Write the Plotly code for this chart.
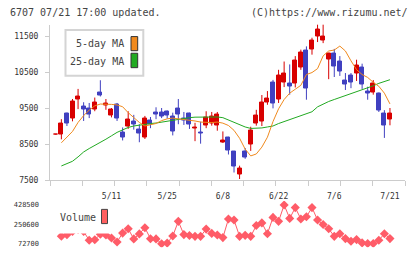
import numpy as np
import plotly.graph_objects as go

W, H = 420, 259

# ---------------- data ----------------
day_idx = list(range(61))
opens = [8780, 8780, 9370, 9230, 9740, 9550, 9500, 9470, 9950, 9590,
         9300, 9610, 8830, 9000, 9130, 8920, 8680, 9160, 9380, 9380,
         9400, 9270, 9490, 9230, 9350, 8930, 8830, 9030, 9090, 9030,
         8560, 8700, 8290, 7670, 8290, 8490, 9090, 9130, 9670, 10220,
         9740, 10220, 10180, 10190, 10640, 11100, 11120, 11480, 11370, 10860,
         11010, 10790, 10280, 10420, 10470, 10630, 9970, 9950, 9900, 9350,
         9200]
highs = [8790, 9200, 9380, 9760, 10040, 9670, 9650, 9800, 10280, 9760,
         9510, 9650, 8970, 9420, 9320, 9060, 9290, 9260, 9530, 9510,
         9440, 9380, 9760, 9400, 9380, 9100, 9130, 9420, 9400, 9400,
         8860, 8710, 8300, 7910, 8400, 8990, 9460, 9870, 9980, 10290,
         10570, 10800, 10720, 10950, 11130, 11220, 11460, 11830, 11830, 11040,
         11150, 10950, 10480, 10480, 10850, 10740, 10100, 10285, 9940, 9450,
         9510]
lows = [8770, 8640, 9010, 9140, 9480, 9150, 9230, 9420, 9830, 9460,
        9250, 9150, 8610, 8930, 8910, 8560, 8650, 8950, 9200, 9230,
        9220, 8750, 9060, 9040, 8930, 8590, 8520, 8950, 9020, 8880,
        8540, 8220, 7720, 7540, 8100, 8320, 9020, 9010, 9600, 9500,
        9650, 10090, 9880, 10080, 10570, 9740, 10990, 11340, 11310, 10310,
        10370, 10400, 10010, 10060, 10260, 10040, 9740, 9880, 9400, 8680,
        9030]
closes = [8780, 9080, 9080, 9700, 9840, 9470, 9330, 9650, 9870, 9630,
          9460, 9220, 8680, 9180, 9040, 8790, 9220, 9060, 9340, 9280,
          9310, 8860, 9330, 9170, 9060, 8970, 8790, 9240, 9270, 9320,
          8610, 8330, 7880, 7840, 8150, 8880, 9290, 9670, 9760, 9630,
          10420, 10470, 10100, 10830, 11050, 10060, 11370, 11690, 11490, 11010,
          10670, 10530, 10170, 10220, 10680, 10150, 9920, 10190, 9440, 9030,
          9350]
ma5 = [None, 8545, 8700, 8860, 9110, 9300, 9450, 9570, 9620, 9625,
       9610, 9595, 9545, 9380, 9250, 9110, 9010, 9040, 9080, 9160,
       9210, 9230, 9215, 9200, 9175, 9150, 9120, 9106, 9106, 9120,
       9090, 9025, 8890, 8670, 8370, 8180, 8235, 8425, 8700, 9134,
       9487, 9746, 9922, 10031, 10140, 10439, 10494, 10602, 10956, 11092,
       11119, 11228, 11092, 10820, 10575, 10439, 10358, 10222, 10113, 9922,
       9623]
ma25 = [None, 7902, 7964, 8032, 8154, 8290, 8386, 8467, 8549, 8644,
        8739, 8834, 8902, 8970, 9011, 9038, 9052, 9079, 9093, 9120,
        9147, 9174, 9202, 9229, 9242, 9256, 9261, 9261, 9261, 9261,
        9242, 9174, 9120, 9052, 8984, 8943, 8943, 8957, 8984, 9011,
        9079, 9134, 9188, 9229, 9283, 9338, 9406, 9542, 9623, 9691,
        9746, 9800, 9854, 9895, 9950, 10004, 10072, 10126, 10194, 10249,
        10295]
volume = [None, 142000, 155600, 185000, 203000, 185000, 104200, 108700, 160100, 152900,
          125000, 88900, 170000, 209600, 116800, 162800, 219500, 118600, 116800, 72700,
          78000, 143000, 278100, 156500, 147500, 140300, 140300, 206900, 167300, 152900,
          128600, 299700, 290700, 140300, 149300, 140300, 239300, 263700, 164600, 314100,
          278100, 428500, 305100, 404200, 299700, 320400, 404200, 290700, 248400, 209600,
          140300, 164600, 119500, 95200, 110500, 79900, 74500, 74500, 104200, 164600,
          119500]
date_pos = [10, 20, 30, 40, 50, 60]
date_labels = ["5/11", "5/25", "6/8", "6/22", "7/6", "7/21"]
price_ticks = [7500, 8500, 9500, 10500, 11500]
vol_ticks = [72700, 250600, 428500]

# ---------------- styling ----------------
RED = "#d80000"
BLUE = "#4040c0"
ORANGE = "#f08a1e"
GREEN = "#22aa22"
VOLC = "#ff5c68"
GRID = "#cccccc"
MONO = "DejaVu Sans Mono"


def px(x):
    return x / W


def py(y):
    return 1 - y / H


XR = [-1.04, 62.7]

fig = go.Figure()

# wicks
for col, cond in ((RED, lambda o, c: c >= o), (BLUE, lambda o, c: c < o)):
    xs, ys = [], []
    for i, o, h, l, c in zip(day_idx, opens, highs, lows, closes):
        if cond(o, c):
            xs += [i, i, None]
            ys += [l, h, None]
    fig.add_trace(go.Scatter(x=xs, y=ys, mode="lines", line=dict(color=col, width=1),
                             xaxis="x", yaxis="y", hoverinfo="skip", showlegend=False))

# bodies
body_base = [min(o, c) for o, c in zip(opens, closes)]
body_h = [abs(c - o) for o, c in zip(opens, closes)]
body_col = [RED if c >= o else BLUE for o, c in zip(opens, closes)]
fig.add_trace(go.Bar(x=day_idx, y=body_h, base=body_base, width=0.72,
                     marker=dict(color=body_col, line=dict(color=body_col, width=1)),
                     xaxis="x", yaxis="y", showlegend=False))

# moving averages
fig.add_trace(go.Scatter(x=day_idx, y=ma25, mode="lines", line=dict(color=GREEN, width=1),
                         xaxis="x", yaxis="y", showlegend=False))
fig.add_trace(go.Scatter(x=day_idx, y=ma5, mode="lines", line=dict(color=ORANGE, width=1),
                         xaxis="x", yaxis="y", showlegend=False))

# volume
fig.add_trace(go.Scatter(x=day_idx, y=volume, mode="lines+markers",
                         line=dict(color=VOLC, width=1),
                         marker=dict(symbol="diamond", size=7, color=VOLC),
                         xaxis="x2", yaxis="y2", showlegend=False))

# invisible trace for the uniform tick axis
fig.add_trace(go.Scatter(x=XR, y=[None, None], xaxis="x3", yaxis="y", showlegend=False))

x_dom = [px(50), px(405)]
fig.update_layout(
    width=W, height=H, margin=dict(l=0, r=0, t=0, b=0),
    paper_bgcolor="white", plot_bgcolor="white",
    barmode="overlay", bargap=0,
    xaxis=dict(domain=x_dom, range=XR, anchor="y", showgrid=False, zeroline=False,
               showline=True, linecolor=GRID, linewidth=1,
               tickvals=date_pos, ticktext=date_labels, ticks="",
               tickfont=dict(family=MONO, size=8, color="#333"), ticklabelstandoff=8),
    xaxis3=dict(domain=x_dom, range=XR, anchor="y", overlaying="x", showgrid=False,
                zeroline=False, showline=False, showticklabels=False,
                tickvals=list(np.linspace(XR[0], XR[1], 12)), ticks="outside",
                ticklen=5, tickcolor=GRID, tickwidth=1),
    yaxis=dict(domain=[py(184), py(25)], range=[7500, 7500 + (184 - 25) / 36.75 * 1000],
               anchor="x", showgrid=False, zeroline=False, showline=True,
               linecolor=GRID, linewidth=1, tickvals=price_ticks, tickformat="d",
               ticks="outside", ticklen=4, tickcolor=GRID,
               tickfont=dict(family=MONO, size=8, color="#333"), ticklabelstandoff=5),
    xaxis2=dict(domain=x_dom, range=XR, anchor="y2", visible=False),
    yaxis2=dict(domain=[py(252), py(205)], range=[72700 - 3.5 * 9008, 428500 + 4 * 9008],
                anchor="x2", showgrid=False, zeroline=False, showline=False,
                tickvals=vol_ticks, tickformat="d", ticks="",
                tickfont=dict(family=MONO, size=7, color="#333"), ticklabelstandoff=10),
)

shapes = [
    # price legend box
    dict(type="rect", xref="paper", yref="paper", x0=px(65.5), x1=px(143.3), y0=py(77.3), y1=py(30.7),
         line=dict(color="#d4d4d4", width=2), fillcolor="white", layer="above"),
    dict(type="rect", xref="paper", yref="paper", x0=px(131), x1=px(137.7), y0=py(51.7), y1=py(37.3),
         line=dict(color="#333", width=1), fillcolor=ORANGE, layer="above"),
    dict(type="rect", xref="paper", yref="paper", x0=px(131), x1=px(137.7), y0=py(69), y1=py(54.3),
         line=dict(color="#333", width=1), fillcolor=GREEN, layer="above"),
    # volume legend
    dict(type="rect", xref="paper", yref="paper", x0=px(56), x1=px(111), y0=py(238), y1=py(210),
         line=dict(width=0), fillcolor="white", layer="above"),
    dict(type="rect", xref="paper", yref="paper", x0=px(101.5), x1=px(107.5), y0=py(228), y1=py(213.5),
         line=dict(color="#444", width=1), fillcolor="#ff6060", layer="above"),
]
fig.update_layout(shapes=shapes)

ann_font = dict(family=MONO, size=10, color="#444")
anns = [
    dict(text="6707 07/21 17:00 updated.", x=px(8), y=py(12.5), xanchor="left", yanchor="middle"),
    dict(text="(C)https://www.rizumu.net/", x=px(410), y=py(12.5), xanchor="right", yanchor="middle"),
    dict(text="5-day MA", x=px(125.5), y=py(44.5), xanchor="right", yanchor="middle"),
    dict(text="25-day MA", x=px(125.5), y=py(62.5), xanchor="right", yanchor="middle"),
    dict(text="Volume", x=px(58), y=py(222), xanchor="left", yanchor="middle"),
]
for a in anns:
    fig.add_annotation(xref="paper", yref="paper", showarrow=False, font=ann_font, **a)

fig.write_html("out.html")
